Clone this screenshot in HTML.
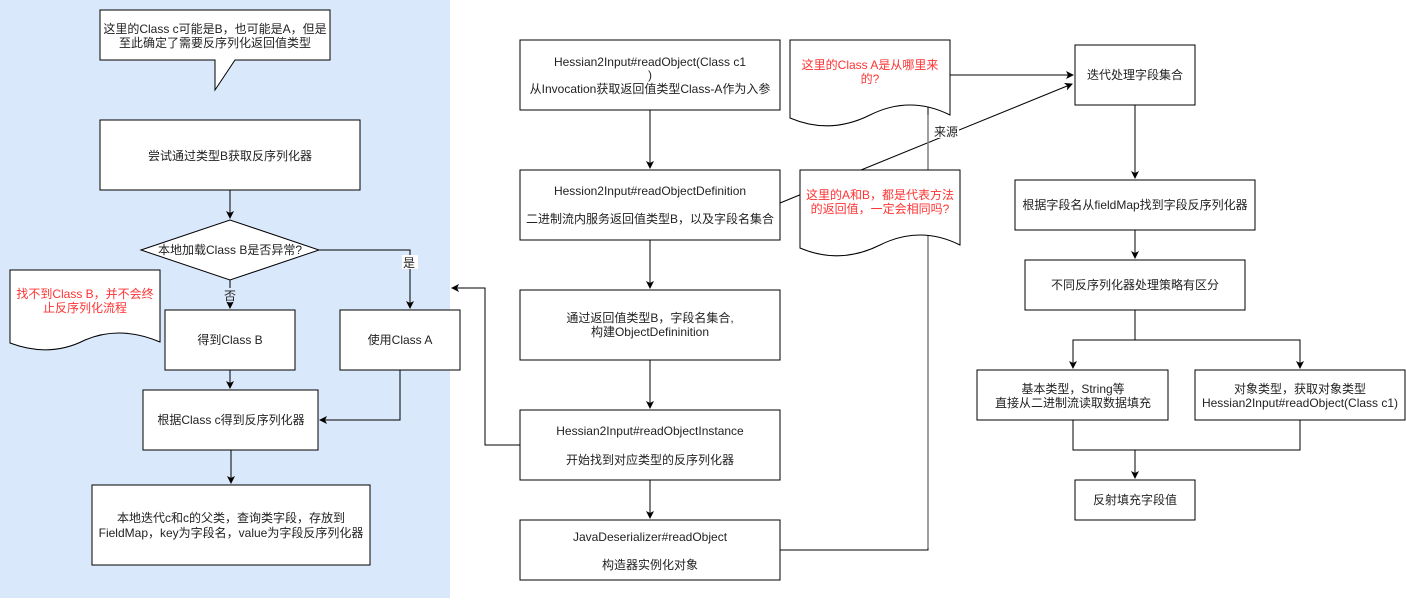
<!DOCTYPE html>
<html><head><meta charset="utf-8"><style>
html,body{margin:0;padding:0;background:#fff;}
svg{display:block;font-family:"Liberation Sans","Noto Sans CJK SC",sans-serif;font-size:12px;}
</style></head><body>
<svg width="1406" height="601" xmlns="http://www.w3.org/2000/svg">
<defs><marker id="a" markerWidth="8" markerHeight="8" refX="7" refY="4" orient="auto" markerUnits="userSpaceOnUse"><path d="M0,0 L8,4 L0,8 L2,4 Z" fill="#000"/></marker></defs>
<rect x="0" y="0" width="450" height="598" fill="#dae8fc"/>
<g fill="none" stroke="#000" stroke-width="1">
<!-- left panel connectors -->
<path d="M230,190 V218" marker-end="url(#a)"/>
<path d="M319,250 H410 V308" marker-end="url(#a)"/>
<path d="M230,280 V308" marker-end="url(#a)"/>
<path d="M230,370 V388" marker-end="url(#a)"/>
<path d="M400,370 V420 H320" marker-end="url(#a)"/>
<path d="M231,450 V483" marker-end="url(#a)"/>
<path d="M520,445 H485 V288 H452" marker-end="url(#a)"/>
<!-- middle -->
<path d="M650,110 V168" marker-end="url(#a)"/>
<path d="M650,240 V288" marker-end="url(#a)"/>
<path d="M650,360 V408" marker-end="url(#a)"/>
<path d="M650,480 V518" marker-end="url(#a)"/>
<path d="M780,550 H928 V75 H1073" marker-end="url(#a)"/>
<path d="M780,203 L1072,84" marker-end="url(#a)"/>
<!-- right -->
<path d="M1135,105 V178" marker-end="url(#a)"/>
<path d="M1135,230 V258" marker-end="url(#a)"/>
<path d="M1135,310 V340 H1073 V368" marker-end="url(#a)"/>
<path d="M1135,340 H1300 V368" marker-end="url(#a)"/>
<path d="M1073,420 V450 H1300 V420"/>
<path d="M1135,450 V478" marker-end="url(#a)"/>
</g>
<line x1="928" y1="115" x2="928" y2="548" stroke="#808080" stroke-width="1.5"/>
<g fill="#fff" stroke="#000" stroke-width="1">
<path d="M100,10 H330 V60 H235 L215,90 L215,60 H100 Z"/>
<rect x="100" y="120" width="260" height="70"/>
<path d="M141,250 L230,220 L319,250 L230,280 Z"/>
<rect x="165" y="310" width="130" height="60"/>
<rect x="340" y="310" width="120" height="60"/>
<path d="M10,270 H160 V342 Q120,325 85,340 Q50,358 10,343 Z"/>
<rect x="143" y="390" width="175" height="60"/>
<rect x="92" y="485" width="278" height="80"/>
<rect x="520" y="40" width="260" height="70"/>
<rect x="520" y="170" width="260" height="70"/>
<rect x="520" y="290" width="260" height="70"/>
<rect x="520" y="410" width="260" height="70"/>
<rect x="520" y="520" width="260" height="60"/>
<path d="M790,40 H950 V115 Q910,95 870,115 Q830,135 790,118 Z"/>
<path d="M800,170 H960 V245 Q920,225 880,245 Q840,265 800,248 Z"/>
<rect x="1075" y="45" width="120" height="60"/>
<rect x="1015" y="180" width="240" height="50"/>
<rect x="1025" y="260" width="220" height="50"/>
<rect x="977" y="370" width="191" height="50"/>
<rect x="1195" y="370" width="210" height="50"/>
<rect x="1075" y="480" width="120" height="40"/>
</g>
<g fill="#222" text-anchor="middle">
<text x="215" y="33">这里的Class c可能是B，也可能是A，但是</text>
<text x="215" y="47">至此确定了需要反序列化返回值类型</text>
<text x="230" y="160">尝试通过类型B获取反序列化器</text>
<text x="230" y="254">本地加载Class B是否异常?</text>
<rect x="402" y="255" width="16" height="14" fill="#fff"/>
<text x="409" y="267">是</text>
<rect x="222" y="288" width="16" height="14" fill="#dae8fc"/>
<text x="230" y="300">否</text>
<text x="230" y="344">得到Class B</text>
<text x="400" y="344">使用Class A</text>
<text x="231" y="424">根据Class c得到反序列化器</text>
<text x="231" y="522">本地迭代c和c的父类，查询类字段，存放到</text>
<text x="231" y="537">FieldMap，key为字段名，value为字段反序列化器</text>
<text x="650" y="66">Hessian2Input#readObject(Class c1</text>
<text x="650" y="79">)</text>
<text x="650" y="93">从Invocation获取返回值类型Class-A作为入参</text>
<text x="650" y="195">Hession2Input#readObjectDefinition</text>
<text x="650" y="223">二进制流内服务返回值类型B，以及字段名集合</text>
<text x="650" y="322">通过返回值类型B，字段名集合,</text>
<text x="650" y="336">构建ObjectDefininition</text>
<text x="650" y="435">Hessian2Input#readObjectInstance</text>
<text x="650" y="464">开始找到对应类型的反序列化器</text>
<text x="650" y="541">JavaDeserializer#readObject</text>
<text x="650" y="569">构造器实例化对象</text>
<rect x="933" y="124" width="26" height="14" fill="#fff"/>
<text x="946" y="136">来源</text>
<text x="1135" y="79">迭代处理字段集合</text>
<text x="1135" y="209">根据字段名从fieldMap找到字段反序列化器</text>
<text x="1135" y="289">不同反序列化器处理策略有区分</text>
<text x="1073" y="393">基本类型，String等</text>
<text x="1073" y="407">直接从二进制流读取数据填充</text>
<text x="1300" y="393">对象类型，获取对象类型</text>
<text x="1300" y="407">Hessian2Input#readObject(Class c1)</text>
<text x="1135" y="504">反射填充字段值</text>
</g>
<g fill="#ff3333" text-anchor="middle">
<text x="85" y="298">找不到Class B，并不会终</text>
<text x="85" y="312">止反序列化流程</text>
<text x="870" y="69">这里的Class A是从哪里来</text>
<text x="870" y="83">的?</text>
<text x="880" y="199">这里的A和B，都是代表方法</text>
<text x="880" y="213">的返回值，一定会相同吗?</text>
</g>
</svg>
</body></html>
